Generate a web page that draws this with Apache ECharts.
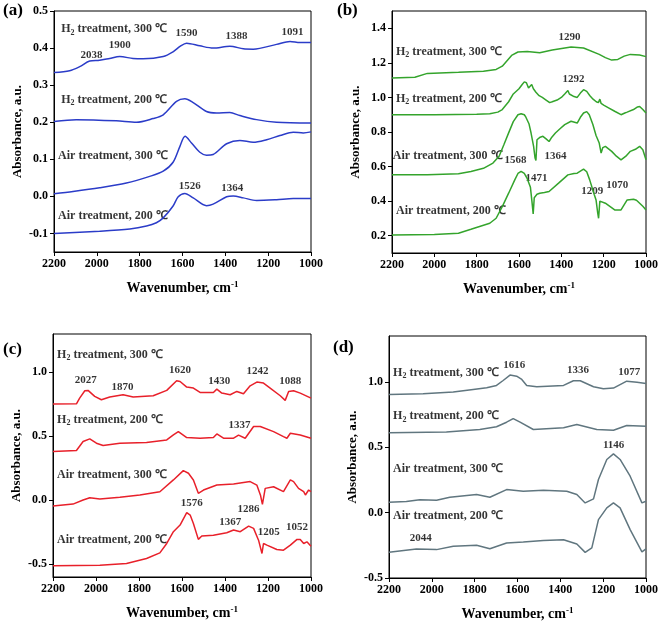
<!DOCTYPE html>
<html>
<head>
<meta charset="utf-8">
<script src="https://cdn.jsdelivr.net/npm/echarts@6/dist/echarts.min.js"></script>
<style>
  html, body { margin: 0; padding: 0; background: #fff; }
  #chart { width: 661px; height: 627px; }
</style>
</head>
<body>
<div id="chart"></div>
<script>
// wavenumber (cm-1), absorbance pairs
var aH2_300 = [[2200,0.334],[2127,0.339],[2080,0.35],[2033,0.365],[1987,0.367],[1940,0.372],[1893,0.377],[1831,0.372],[1784,0.371],[1690,0.377],[1644,0.39],[1610,0.405],[1581,0.413],[1519,0.406],[1457,0.4],[1379,0.405],[1316,0.398],[1270,0.397],[1161,0.41],[1098,0.418],[1052,0.415],[1000,0.415]];
var aH2_200 = [[2200,0.202],[2096,0.207],[1909,0.204],[1815,0.2],[1737,0.21],[1690,0.22],[1628,0.256],[1589,0.263],[1550,0.253],[1488,0.229],[1441,0.225],[1379,0.226],[1332,0.218],[1254,0.207],[1161,0.2],[1000,0.198]];
var aAir_300 = [[2200,0.007],[2111,0.013],[1987,0.023],[1862,0.036],[1753,0.054],[1690,0.068],[1644,0.092],[1612,0.135],[1588,0.162],[1558,0.144],[1519,0.119],[1488,0.111],[1457,0.113],[1394,0.142],[1332,0.151],[1270,0.146],[1207,0.153],[1145,0.164],[1083,0.173],[1036,0.171],[1000,0.174]];
var aAir_200 = [[2200,-0.1],[1987,-0.094],[1846,-0.088],[1768,-0.08],[1722,-0.071],[1690,-0.058],[1644,-0.026],[1620,-0.001],[1589,0.008],[1550,-0.004],[1488,-0.025],[1457,-0.021],[1394,-0.001],[1363,0.001],[1316,-0.004],[1254,-0.011],[1161,-0.009],[1083,-0.006],[1000,-0.006]];

var bH2_300 = [[2200,1.112],[2092,1.117],[2033,1.139],[1886,1.146],[1768,1.152],[1708,1.162],[1679,1.181],[1635,1.243],[1605,1.263],[1561,1.266],[1502,1.259],[1443,1.274],[1354,1.292],[1295,1.286],[1221,1.249],[1192,1.23],[1162,1.216],[1133,1.22],[1103,1.239],[1074,1.249],[1030,1.245],[1000,1.236]];
var bH2_200 = [[2200,0.9],[2000,0.9],[1800,0.902],[1738,0.905],[1700,0.915],[1679,0.93],[1649,0.975],[1627,1.02],[1600,1.05],[1585,1.075],[1575,1.09],[1565,1.085],[1555,1.055],[1548,1.06],[1540,1.075],[1532,1.05],[1520,1.03],[1505,1.01],[1490,1.0],[1472,0.985],[1455,0.97],[1443,0.975],[1420,0.985],[1400,1.0],[1384,1.02],[1375,1.015],[1369,1.04],[1362,1.02],[1354,1.03],[1340,1.005],[1325,1.0],[1310,1.025],[1295,1.045],[1280,1.035],[1265,1.01],[1250,0.99],[1235,0.975],[1225,0.97],[1218,0.99],[1212,0.965],[1200,0.955],[1177,0.94],[1148,0.92],[1118,0.9],[1100,0.91],[1089,0.915],[1059,0.93],[1040,0.945],[1030,0.948],[1015,0.93],[1000,0.91]];
var bAir_300 = [[2200,0.552],[2033,0.552],[1886,0.558],[1827,0.572],[1768,0.59],[1723,0.62],[1694,0.66],[1672,0.725],[1649,0.795],[1627,0.86],[1605,0.9],[1590,0.906],[1575,0.9],[1568,0.887],[1553,0.848],[1543,0.794],[1531,0.717],[1524,0.649],[1520,0.635],[1515,0.755],[1500,0.77],[1487,0.775],[1472,0.76],[1458,0.745],[1445,0.77],[1428,0.794],[1405,0.82],[1384,0.843],[1354,0.862],[1325,0.852],[1310,0.885],[1295,0.91],[1280,0.918],[1268,0.9],[1251,0.843],[1236,0.78],[1221,0.736],[1212,0.678],[1204,0.71],[1192,0.717],[1162,0.688],[1140,0.66],[1118,0.639],[1095,0.66],[1074,0.688],[1050,0.7],[1030,0.717],[1015,0.697],[1000,0.639]];
var bAir_200 = [[2200,0.204],[2000,0.207],[1886,0.214],[1827,0.237],[1738,0.272],[1708,0.301],[1679,0.368],[1649,0.446],[1620,0.523],[1605,0.56],[1590,0.572],[1575,0.56],[1561,0.53],[1546,0.48],[1539,0.4],[1533,0.326],[1528,0.42],[1515,0.44],[1502,0.446],[1480,0.45],[1458,0.456],[1413,0.504],[1369,0.552],[1340,0.56],[1325,0.562],[1295,0.585],[1280,0.57],[1266,0.523],[1245,0.44],[1236,0.407],[1228,0.33],[1224,0.301],[1218,0.4],[1214,0.41],[1192,0.388],[1148,0.349],[1118,0.349],[1089,0.407],[1059,0.411],[1045,0.405],[1030,0.388],[1015,0.37],[1000,0.349]];

var cH2_300 = [[2200,0.752],[2091,0.754],[2076,0.799],[2052,0.856],[2037,0.859],[2006,0.812],[1975,0.786],[1936,0.807],[1874,0.825],[1827,0.807],[1734,0.817],[1671,0.859],[1625,0.935],[1609,0.929],[1578,0.885],[1547,0.877],[1516,0.843],[1454,0.843],[1438,0.869],[1415,0.838],[1376,0.825],[1345,0.851],[1314,0.833],[1283,0.895],[1252,0.924],[1221,0.916],[1190,0.877],[1143,0.817],[1120,0.781],[1104,0.851],[1081,0.856],[1050,0.838],[1000,0.799]];
var cH2_200 = [[2200,0.381],[2091,0.389],[2060,0.459],[2029,0.48],[1998,0.446],[1967,0.428],[1889,0.446],[1765,0.451],[1671,0.472],[1640,0.511],[1617,0.537],[1578,0.49],[1516,0.485],[1454,0.49],[1438,0.519],[1407,0.485],[1360,0.485],[1337,0.509],[1306,0.485],[1267,0.577],[1236,0.577],[1174,0.537],[1128,0.498],[1112,0.485],[1096,0.524],[1050,0.511],[1000,0.485]];
var cAir_300 = [[2200,-0.045],[2107,-0.03],[2060,0.002],[2029,0.02],[1982,0.01],[1889,0.023],[1796,0.041],[1703,0.067],[1640,0.159],[1594,0.232],[1570,0.211],[1547,0.159],[1524,0.054],[1500,0.08],[1438,0.119],[1360,0.127],[1283,0.146],[1252,0.119],[1235,0.04],[1226,-0.032],[1213,0.093],[1174,0.106],[1128,0.067],[1096,0.159],[1081,0.146],[1058,0.093],[1034,0.067],[1026,0.041],[1011,0.08],[1000,0.067]];
var cAir_200 = [[2200,-0.513],[1982,-0.508],[1858,-0.495],[1765,-0.455],[1703,-0.411],[1671,-0.338],[1640,-0.246],[1609,-0.194],[1578,-0.097],[1562,-0.116],[1547,-0.181],[1524,-0.306],[1508,-0.28],[1454,-0.273],[1392,-0.254],[1360,-0.233],[1329,-0.246],[1290,-0.202],[1267,-0.22],[1244,-0.312],[1228,-0.416],[1221,-0.338],[1205,-0.351],[1159,-0.385],[1128,-0.39],[1096,-0.351],[1065,-0.306],[1050,-0.306],[1034,-0.338],[1019,-0.325],[1000,-0.359]];

var dH2_300 = [[2200,0.903],[2041,0.908],[1900,0.921],[1807,0.941],[1744,0.954],[1698,0.972],[1667,1.01],[1635,1.051],[1604,1.043],[1580,1.018],[1557,0.972],[1510,0.962],[1385,0.972],[1339,1.008],[1307,1.008],[1245,0.962],[1199,0.946],[1152,0.952],[1090,1.005],[1042,0.997],[1000,0.987]];
var dH2_200 = [[2200,0.61],[1932,0.617],[1776,0.635],[1698,0.656],[1651,0.691],[1620,0.719],[1588,0.691],[1526,0.635],[1385,0.648],[1323,0.673],[1230,0.635],[1152,0.63],[1090,0.666],[1000,0.661]];
var dAir_300 = [[2200,0.079],[2119,0.085],[2056,0.099],[1978,0.094],[1916,0.117],[1791,0.138],[1729,0.117],[1651,0.176],[1573,0.163],[1479,0.171],[1370,0.163],[1323,0.138],[1284,0.074],[1245,0.105],[1222,0.253],[1183,0.406],[1152,0.449],[1121,0.406],[1074,0.278],[1019,0.074],[1000,0.087]];
var dAir_200 = [[2200,-0.304],[2072,-0.278],[1978,-0.283],[1900,-0.258],[1791,-0.25],[1729,-0.276],[1651,-0.232],[1573,-0.224],[1479,-0.214],[1385,-0.207],[1323,-0.24],[1284,-0.304],[1253,-0.27],[1222,-0.054],[1183,0.036],[1152,0.074],[1121,0.036],[1074,-0.13],[1019,-0.301],[1000,-0.278]];

// tick labels
var xTicks = [2200, 2000, 1800, 1600, 1400, 1200, 1000];
var aTicks = [-0.1, 0, 0.1, 0.2, 0.3, 0.4, 0.5];
var bTicks = [0.2, 0.4, 0.6, 0.8, 1.0, 1.2, 1.4];
var cTicks = [-0.5, 0, 0.5, 1.0];
var dTicks = [-0.5, 0, 0.5, 1.0];

// curve names and peak labels: [wavenumber, absorbance, text]
var H300 = '{t|H}{s|2}{t| treatment, 300 ℃}';
var H200 = '{t|H}{s|2}{t| treatment, 200 ℃}';
var A300 = '{t|Air treatment, 300 ℃}';
var A200 = '{t|Air treatment, 200 ℃}';
var aNames = [[2166,0.451,H300],[2166,0.261,H200],[2181,0.108,A300],[2181,-0.052,A200]];
var aPeaks = [[2025,0.382,'2038'],[1893,0.407,'1900'],[1581,0.44,'1590'],[1348,0.431,'1388'],[1086,0.444,'1091'],[1566,0.027,'1526'],[1368,0.023,'1364']];
var bNames = [[2181,1.265,H300],[2181,0.994,H200],[2196,0.663,A300],[2181,0.345,A200]];
var bPeaks = [[1362,1.346,'1290'],[1342,1.104,'1292'],[1616,0.636,'1568'],[1428,0.663,'1364'],[1517,0.533,'1471'],[1254,0.459,'1209'],[1136,0.494,'1070']];
var cNames = [[2181,1.138,H300],[2181,0.629,H200],[2181,0.198,A300],[2181,-0.307,A200]];
var cPeaks = [[2048,0.937,'2027'],[1877,0.885,'1870'],[1609,1.021,'1620'],[1427,0.935,'1430'],[1249,1.013,'1242'],[1096,0.929,'1088'],[1333,0.59,'1337'],[1555,-0.019,'1576'],[1291,-0.069,'1286'],[1376,-0.168,'1367'],[1197,-0.246,'1205'],[1065,-0.207,'1052']];
var dNames = [[2181,1.069,H300],[2181,0.737,H200],[2181,0.334,A300],[2181,-0.023,A200]];
var dPeaks = [[1615,1.125,'1616'],[1318,1.089,'1336'],[1078,1.077,'1077'],[1151,0.513,'1146'],[2052,-0.196,'2044']];

var FONT = "'Liberation Serif', 'Times New Roman', serif";

var chart = echarts.init(document.getElementById('chart'));

var grids = [
  { left: 54, top: 11, width: 257, height: 241 },
  { left: 392, top: 11, width: 267, height: 242 },
  { left: 53, top: 334, width: 258, height: 243 },
  { left: 389, top: 336, width: 257, height: 242 }
];
var yRanges = [[-0.15, 0.5, aTicks], [0.1, 1.5, bTicks], [-0.6, 1.3, cTicks], [-0.5, 1.35, dTicks]];
var colors = ['#2b3cc8', '#34a42c', '#e8202a', '#60767f'];
var curves = [
  [aH2_300, aH2_200, aAir_300, aAir_200],
  [bH2_300, bH2_200, bAir_300, bAir_200],
  [cH2_300, cH2_200, cAir_300, cAir_200],
  [dH2_300, dH2_200, dAir_300, dAir_200]
];
var names = [aNames, bNames, cNames, dNames];
var peaks = [aPeaks, bPeaks, cPeaks, dPeaks];

var richText = {
  t: { fontFamily: FONT, fontWeight: 'bold', fontSize: 12, color: '#000' },
  s: { fontFamily: FONT, fontWeight: 'bold', fontSize: 8, color: '#000', padding: [7, 0, 0, 0] }
};

var xAxes = [], yAxes = [], series = [];
grids.forEach(function (g, i) {
  g.show = true;
  g.borderColor = '#000';
  g.borderWidth = 1;
  xAxes.push({
    gridIndex: i, type: 'value', inverse: true, min: 1000, max: 2200, interval: 200,
    name: 'Wavenumber, cm{sup|-1}', nameLocation: 'middle', nameGap: 28,
    nameTextStyle: {
      fontFamily: FONT, fontWeight: 'bold', fontSize: 14, color: '#000',
      rich: { sup: { fontFamily: FONT, fontWeight: 'bold', fontSize: 9, color: '#000', padding: [0, 0, 8, 0] } }
    },
    axisLine: { onZero: false, lineStyle: { color: '#000', width: 1 } },
    axisTick: { inside: false, length: 4, lineStyle: { color: '#000' } },
    axisLabel: {
      customValues: xTicks, fontFamily: FONT, fontWeight: 'bold', fontSize: 12, color: '#000', margin: 6,
      formatter: function (v) { return String(v); }
    },
    splitLine: { show: false }
  });
  var yr = yRanges[i];
  yAxes.push({
    gridIndex: i, type: 'value', min: yr[0], max: yr[1],
    name: 'Absorbance, a.u.', nameLocation: 'middle', nameGap: 30,
    nameTextStyle: { fontFamily: FONT, fontWeight: 'bold', fontSize: 13, color: '#000' },
    axisLine: { onZero: false, lineStyle: { color: '#000', width: 1 } },
    axisTick: { inside: false, length: 4, customValues: yr[2], lineStyle: { color: '#000' } },
    axisLabel: {
      customValues: yr[2], fontFamily: FONT, fontWeight: 'bold', fontSize: 12, color: '#000', margin: 6,
      formatter: function (v) { return (Math.abs(v) < 1e-9 ? 0 : v).toFixed(1); }
    },
    splitLine: { show: false }
  });
  curves[i].forEach(function (d) {
    series.push({
      type: 'line', xAxisIndex: i, yAxisIndex: i, data: d, showSymbol: false, silent: true,
      lineStyle: { color: colors[i], width: 1.5 }, smooth: i === 0 ? 0.3 : false, animation: false
    });
  });
  series.push({
    type: 'scatter', xAxisIndex: i, yAxisIndex: i, data: names[i], symbolSize: 0, silent: true, animation: false,
    label: { show: true, position: 'right', distance: 0, formatter: function (p) { return p.data[2]; }, rich: richText }
  });
  series.push({
    type: 'scatter', xAxisIndex: i, yAxisIndex: i, data: peaks[i], symbolSize: 0, silent: true, animation: false,
    label: {
      show: true, position: 'inside', formatter: function (p) { return p.data[2]; },
      fontFamily: FONT, fontWeight: 'bold', fontSize: 11, color: '#000'
    }
  });
});

var letterStyle = { fontFamily: FONT, fontWeight: 'bold', fontSize: 17, fill: '#000' };
chart.setOption({
  backgroundColor: '#fff',
  animation: false,
  grid: grids,
  xAxis: xAxes,
  yAxis: yAxes,
  series: series,
  graphic: [
    { type: 'text', left: 3, top: 2, style: Object.assign({ text: '(a)' }, letterStyle) },
    { type: 'text', left: 337, top: 2, style: Object.assign({ text: '(b)' }, letterStyle) },
    { type: 'text', left: 3, top: 341, style: Object.assign({ text: '(c)' }, letterStyle) },
    { type: 'text', left: 333, top: 339, style: Object.assign({ text: '(d)' }, letterStyle) }
  ]
});
</script>
</body>
</html>
